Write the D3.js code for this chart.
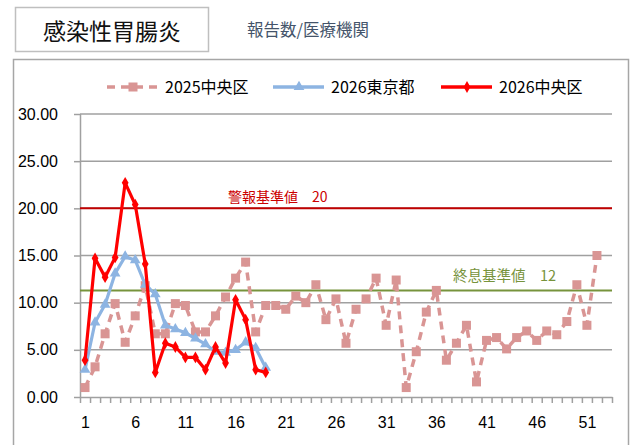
<!DOCTYPE html>
<html><head><meta charset="utf-8">
<script src="https://cdn.jsdelivr.net/npm/d3@7"></script>
<style>
html,body{margin:0;padding:0;background:#fff;}
svg{display:block;}
</style></head>
<body>
<svg id="chart" width="631" height="445"></svg>
<script>
const weeks = d3.range(1, 54);
const xTickLabels = [1, 6, 11, 16, 21, 26, 31, 36, 41, 46, 51];
const yTickValues = [0, 5, 10, 15, 20, 25, 30];
const seriesNames = ["2025中央区", "2026東京都", "2026中央区"];
const chuo2025 = [1.0, 3.2, 6.7, 9.9, 5.8, 8.6, 11.8, 6.7, 6.7, 9.9, 9.7, 6.9, 6.9, 8.6, 10.6, 12.6, 14.3, 6.9, 9.7, 9.7,
  9.3, 10.7, 10.0, 11.9, 8.2, 10.4, 5.7, 9.3, 10.4, 12.6, 7.6, 12.4, 1.0, 4.8, 9.0, 11.3, 3.9, 5.7, 7.6, 1.6,
  6.0, 6.3, 5.1, 6.3, 7.0, 6.0, 7.0, 6.6, 8.0, 11.9, 7.6, 15.0];
const tokyo2026 = [2.9, 7.9, 9.8, 13.1, 14.9, 14.5, 11.9, 10.9, 7.6, 7.2, 6.8, 6.2, 5.6, 4.8, 4.7, 5.0, 5.8, 5.2, 3.1];
const chuo2026 = [3.9, 14.7, 12.7, 14.8, 22.7, 20.4, 14.1, 2.6, 5.7, 5.3, 4.2, 4.2, 2.9, 5.3, 3.6, 10.3, 8.2, 2.9, 2.6];
const alertValue = 20;
const alertLabel = "警報基準値　20";
const endValue = 11.3;
const endLabel = "終息基準値　12";
const titleText = "感染性胃腸炎";
const unitText = "報告数/医療機関";

const svg = d3.select("#chart");
const cjk = "'Noto Sans CJK JP', 'Noto Sans', sans-serif";
const num = "'Liberation Sans', Arial, sans-serif";

// frames
svg.append("rect").attr("x", 13.5).attr("y", 59.5).attr("width", 615).attr("height", 400)
  .attr("fill", "none").attr("stroke", "#a6a6a6").attr("stroke-width", 1.5);
svg.append("rect").attr("x", 15.5).attr("y", 7.5).attr("width", 193).attr("height", 44)
  .attr("fill", "#fff").attr("stroke", "#bfbfbf").attr("stroke-width", 1.5);
svg.append("text").attr("x", 112).attr("y", 40).attr("text-anchor", "middle")
  .attr("font-family", cjk).attr("font-size", 23).attr("fill", "#111").text(titleText);
svg.append("text").attr("x", 247).attr("y", 36)
  .attr("font-family", cjk).attr("font-size", 16.5).attr("fill", "#44546a").text(unitText);

const x = d3.scaleLinear().domain([0.5, 53.5]).range([80, 612]);
const y = d3.scaleLinear().domain([0, 30]).range([397, 114]);

// grid
svg.append("g").selectAll("line").data(yTickValues.filter(v => v > 0)).join("line")
  .attr("x1", 80).attr("x2", 612).attr("y1", d => y(d)).attr("y2", d => y(d))
  .attr("stroke", "#a0a0a0").attr("stroke-width", 1.5);

// axes
const yAxis = svg.append("g").attr("transform", "translate(80,0)")
  .call(d3.axisLeft(y).tickValues(yTickValues).tickFormat(d3.format(".2f")).tickSize(6).tickPadding(16));
yAxis.select(".domain").attr("stroke", "#a0a0a0").attr("stroke-width", 1.5).attr("d", "M0.5,397V114");
yAxis.selectAll(".tick line").attr("stroke", "#a0a0a0").attr("stroke-width", 1.5);
yAxis.selectAll("text").attr("font-family", num).attr("font-size", 16).attr("fill", "#000");

const xAxis = svg.append("g").attr("transform", "translate(0,397)")
  .call(d3.axisBottom(x).tickValues(d3.range(0.5, 54, 1)).tickFormat("").tickSize(6).tickSizeOuter(0));
xAxis.select(".domain").attr("stroke", "#a0a0a0").attr("stroke-width", 1.5);
xAxis.selectAll(".tick line").attr("stroke", "#a0a0a0").attr("stroke-width", 1.5);
const xLab = svg.append("g").attr("transform", "translate(0,397)")
  .call(d3.axisBottom(x).tickValues(xTickLabels).tickFormat(d3.format("d")).tickSize(0).tickPadding(20));
xLab.select(".domain").remove();
xLab.selectAll("text").attr("font-family", num).attr("font-size", 16).attr("fill", "#000");

// threshold lines
svg.append("line").attr("x1", 80).attr("x2", 612).attr("y1", y(alertValue)).attr("y2", y(alertValue))
  .attr("stroke", "#c00000").attr("stroke-width", 2);
svg.append("text").attr("x", 228).attr("y", y(alertValue) - 6).attr("font-family", cjk).attr("font-size", 14)
  .attr("fill", "#cc0000").text(alertLabel);
svg.append("line").attr("x1", 80).attr("x2", 612).attr("y1", y(endValue)).attr("y2", y(endValue))
  .attr("stroke", "#77933c").attr("stroke-width", 2);
svg.append("text").attr("x", 453).attr("y", y(endValue) - 9).attr("font-family", cjk).attr("font-size", 14.5)
  .attr("fill", "#77933c").text(endLabel);

const line = d3.line().x((d, i) => x(i + 1)).y(d => y(d));

const colors = ["#d99594", "#8db4e2", "#ff0000"];
const datasets = [chuo2025, tokyo2026, chuo2026];

function marker(g, type, cx, cy, color) {
  if (type === 0) {
    g.append("rect").attr("x", cx - 4.5).attr("y", cy - 4.5).attr("width", 9).attr("height", 9).attr("fill", color);
  } else if (type === 1) {
    g.append("path").attr("d", d3.symbol(d3.symbolTriangle, 50)()).attr("transform", `translate(${cx},${cy})`).attr("fill", color);
  } else {
    g.append("path").attr("d", d3.symbol(d3.symbolDiamond, 40)()).attr("transform", `translate(${cx},${cy})`).attr("fill", color);
  }
}

datasets.forEach((data, k) => {
  const g = svg.append("g");
  g.append("path").attr("d", line(data)).attr("fill", "none").attr("stroke", colors[k])
    .attr("stroke-width", k === 0 ? 3.5 : 3.2).attr("stroke-linejoin", "round")
    .attr("stroke-dasharray", k === 0 ? "8,6" : null);
  data.forEach((v, i) => marker(g, k, x(i + 1), y(v), colors[k]));
});

// legend
const legendX = [107, 273, 441];
seriesNames.forEach((name, k) => {
  const g = svg.append("g");
  const x0 = legendX[k], ly = 87;
  g.append("line").attr("x1", x0).attr("x2", x0 + 51).attr("y1", ly).attr("y2", ly)
    .attr("stroke", colors[k]).attr("stroke-width", 3.5).attr("stroke-dasharray", k === 0 ? "8,6" : null);
  marker(g, k, x0 + 26, ly, colors[k]);
  g.append("text").attr("x", x0 + 58).attr("y", ly + 6).attr("font-family", cjk).attr("font-size", 16)
    .attr("fill", "#000").text(name);
});
</script>
</body></html>
